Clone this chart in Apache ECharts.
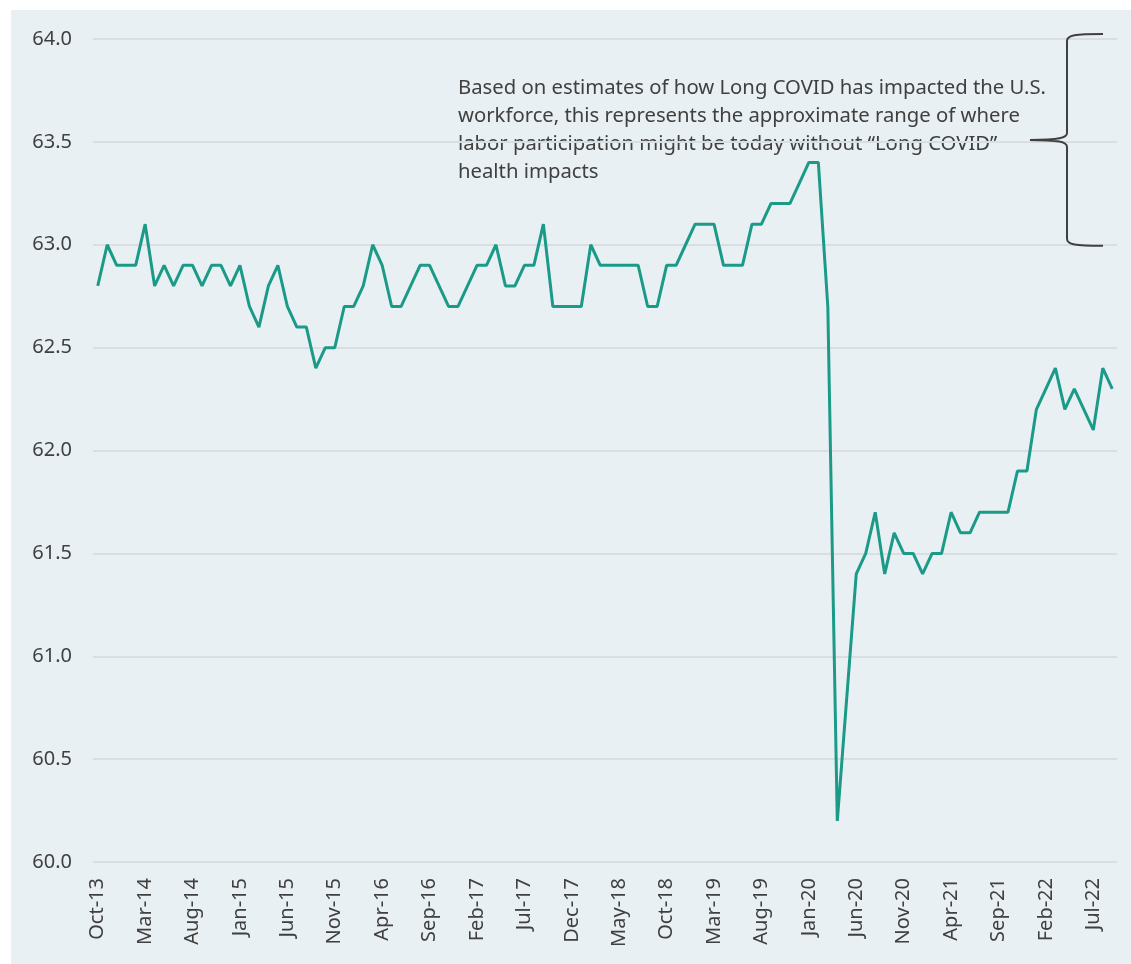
<!DOCTYPE html>
<html>
<head>
<meta charset="utf-8">
<style>
  html, body { margin: 0; padding: 0; background: #fff; }
  #chart { position: absolute; left: 11px; top: 10px; width: 1120px; height: 954px; }
</style>
<script src="https://cdn.jsdelivr.net/npm/echarts@6/dist/echarts.min.js"></script>
</head>
<body>
<div id="chart"></div>
<script>
// monthly labor force participation rate, Oct-13 .. Sep-22
const categories = [
  "Oct-13", "Nov-13", "Dec-13",
  "Jan-14", "Feb-14", "Mar-14", "Apr-14", "May-14", "Jun-14", "Jul-14", "Aug-14", "Sep-14", "Oct-14", "Nov-14", "Dec-14",
  "Jan-15", "Feb-15", "Mar-15", "Apr-15", "May-15", "Jun-15", "Jul-15", "Aug-15", "Sep-15", "Oct-15", "Nov-15", "Dec-15",
  "Jan-16", "Feb-16", "Mar-16", "Apr-16", "May-16", "Jun-16", "Jul-16", "Aug-16", "Sep-16", "Oct-16", "Nov-16", "Dec-16",
  "Jan-17", "Feb-17", "Mar-17", "Apr-17", "May-17", "Jun-17", "Jul-17", "Aug-17", "Sep-17", "Oct-17", "Nov-17", "Dec-17",
  "Jan-18", "Feb-18", "Mar-18", "Apr-18", "May-18", "Jun-18", "Jul-18", "Aug-18", "Sep-18", "Oct-18", "Nov-18", "Dec-18",
  "Jan-19", "Feb-19", "Mar-19", "Apr-19", "May-19", "Jun-19", "Jul-19", "Aug-19", "Sep-19", "Oct-19", "Nov-19", "Dec-19",
  "Jan-20", "Feb-20", "Mar-20", "Apr-20", "May-20", "Jun-20", "Jul-20", "Aug-20", "Sep-20", "Oct-20", "Nov-20", "Dec-20",
  "Jan-21", "Feb-21", "Mar-21", "Apr-21", "May-21", "Jun-21", "Jul-21", "Aug-21", "Sep-21", "Oct-21", "Nov-21", "Dec-21",
  "Jan-22", "Feb-22", "Mar-22", "Apr-22", "May-22", "Jun-22", "Jul-22", "Aug-22", "Sep-22"
];

const participation = [
  62.8, 63.0, 62.9,
  62.9, 62.9, 63.1, 62.8, 62.9, 62.8, 62.9, 62.9, 62.8, 62.9, 62.9, 62.8,
  62.9, 62.7, 62.6, 62.8, 62.9, 62.7, 62.6, 62.6, 62.4, 62.5, 62.5, 62.7,
  62.7, 62.8, 63.0, 62.9, 62.7, 62.7, 62.8, 62.9, 62.9, 62.8, 62.7, 62.7,
  62.8, 62.9, 62.9, 63.0, 62.8, 62.8, 62.9, 62.9, 63.1, 62.7, 62.7, 62.7,
  62.7, 63.0, 62.9, 62.9, 62.9, 62.9, 62.9, 62.7, 62.7, 62.9, 62.9, 63.0,
  63.1, 63.1, 63.1, 62.9, 62.9, 62.9, 63.1, 63.1, 63.2, 63.2, 63.2, 63.3,
  63.4, 63.4, 62.7, 60.2, 60.8, 61.4, 61.5, 61.7, 61.4, 61.6, 61.5, 61.5,
  61.4, 61.5, 61.5, 61.7, 61.6, 61.6, 61.7, 61.7, 61.7, 61.7, 61.9, 61.9,
  62.2, 62.3, 62.4, 62.2, 62.3, 62.2, 62.1, 62.4, 62.3
];

// y range bracketed on the right ("without Long COVID" estimate)
const braceRange = [63.0, 64.0];
const noteText = "Based on estimates of how Long COVID has impacted the U.S.\n" +
  "workforce, this represents the approximate range of where\n" +
  "labor participation might be today without \u201cLong COVID\u201d\n" +
  "health impacts";

const textColor = "#404040";
const lineColor = "#1B9A88";
const fontFamily = "'Noto Sans', 'Open Sans', sans-serif";

let chart = echarts.init(document.getElementById("chart"));

function renderBrace(params, api) {
  let cs = params.coordSys;
  let top = api.coord([0, api.value(2)])[1] - 5;
  let bot = api.coord([0, api.value(1)])[1] + 1;
  let mid = (top + bot) / 2;
  let xv = cs.x + cs.width - 50; // vertical stroke
  let xe = xv + 36;              // curled ends
  let xp = xv - 37;              // middle point
  let r = 7;
  let d = [
    "M", xe, top,
    "C", xv + 8, top, xv, top + 1, xv, top + r,
    "L", xv, mid - r,
    "C", xv, mid - 2, xv - 8, mid, xp, mid,
    "C", xv - 8, mid, xv, mid + 2, xv, mid + r,
    "L", xv, bot - r,
    "C", xv, bot - 1, xv + 8, bot, xe, bot
  ].join(" ");
  return {
    type: "path",
    shape: { pathData: d },
    style: { fill: "none", stroke: textColor, lineWidth: 2 }
  };
}

let option = {
  backgroundColor: "#E8F0F3",
  animation: false,
  grid: {
    left: 82,
    right: 14,
    top: 29,
    bottom: 102
  },
  xAxis: {
    type: "category",
    data: categories,
    boundaryGap: true,
    axisLine: { show: false },
    axisTick: { show: false },
    axisLabel: {
      interval: 4,
      rotate: 90,
      margin: 16,
      color: textColor,
      fontSize: 20,
      fontFamily: fontFamily
    }
  },
  yAxis: {
    type: "value",
    min: 60,
    max: 64,
    interval: 0.5,
    axisLine: { show: false },
    axisTick: { show: false },
    axisLabel: {
      margin: 21,
      color: textColor,
      fontSize: 20,
      fontFamily: fontFamily,
      formatter: v => v.toFixed(1)
    },
    splitLine: {
      show: true,
      lineStyle: { color: "#D8DEE1", width: 2 }
    }
  },
  graphic: [
    {
      type: "text",
      left: 447,
      top: 64,
      style: {
        text: noteText,
        fill: textColor,
        font: "20.3px " + fontFamily,
        lineHeight: 28
      }
    }
  ],
  series: [
    {
      name: "Labor force participation",
      type: "line",
      data: participation,
      symbol: "none",
      lineStyle: { color: lineColor, width: 3 },
      z: 3
    },
    {
      type: "custom",
      data: [[0, braceRange[0], braceRange[1]]],
      renderItem: renderBrace,
      silent: true,
      z: 4
    }
  ]
};

chart.setOption(option);
</script>
</body>
</html>
